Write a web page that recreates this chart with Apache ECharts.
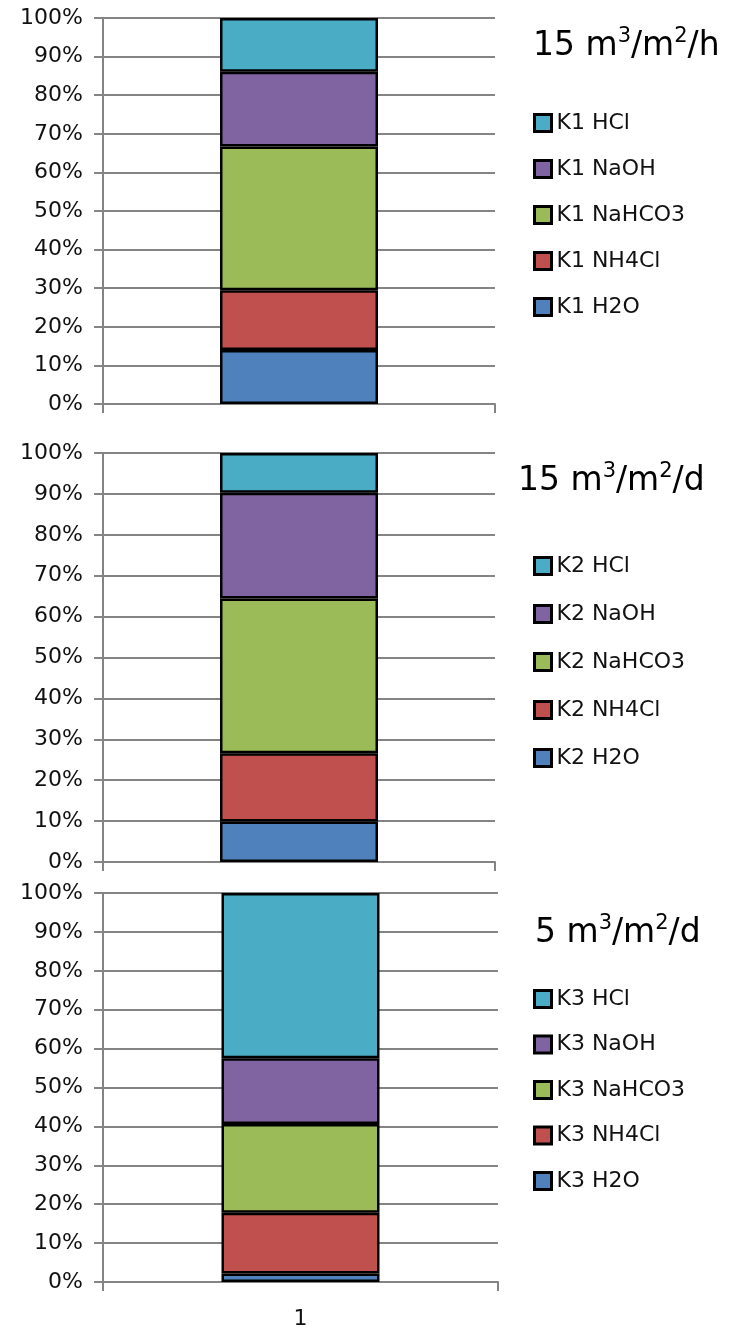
<!DOCTYPE html>
<html>
<head>
<meta charset="utf-8">
<style>
  html, body { margin: 0; padding: 0; background: #fff; }
  #chart { width: 738px; height: 1332px; }
</style>
<script src="https://cdn.jsdelivr.net/npm/echarts@6/dist/echarts.min.js"></script>
</head>
<body>
<div id="chart"></div>
<script>
// Column categories and stacked components (bottom to top)
const categories = ['1'];
const components = ['H2O', 'NH4Cl', 'NaHCO3', 'NaOH', 'HCl'];
const componentColors = ['#4F81BD', '#C0504D', '#9BBB59', '#8064A2', '#4BACC6'];

// Share of each component, percent
const k1Values = [14.0, 15.5, 37.2, 19.4, 13.9];
const k2Values = [9.9, 16.7, 37.8, 25.9, 9.7];
const k3Values = [2.2, 15.6, 22.8, 16.9, 42.5];

const panelPrefixes = ['K1', 'K2', 'K3'];
const panelValues = [k1Values, k2Values, k3Values];
// Loading rates, with superscript exponents as rich-text tokens
const panelTitles = ['15 m{sup|3}/m{sup|2}/h', '15 m{sup|3}/m{sup|2}/d', '5 m{sup|3}/m{sup|2}/d'];

// Panel layout (pixels)
const panels = [
  { top: 18, height: 386, right: 243, titleLeft: 533, titleTop: 26, legendTop: 107, legendGap: 24, showX: false },
  { top: 453, height: 409, right: 243, titleLeft: 518, titleTop: 461, legendTop: 550, legendGap: 26, showX: false },
  { top: 893, height: 389, right: 240, titleLeft: 535, titleTop: 913, legendTop: 983, legendGap: 23.5, showX: true }
];

const gridColor = '#848484';
const textColor = '#111';
const font = 'DejaVu Sans';

const grids = [], xAxes = [], yAxes = [], series = [], legends = [], titles = [];

panels.forEach((p, i) => {
  grids.push({ left: 103, right: p.right, top: p.top, height: p.height, containLabel: false });
  xAxes.push({
    type: 'category', gridIndex: i, data: categories,
    axisLine: { show: true, lineStyle: { color: gridColor, width: 2 } },
    axisTick: { show: true, length: 9, alignWithLabel: false, lineStyle: { color: gridColor, width: 2 } },
    axisLabel: { show: p.showX, margin: 26, color: textColor, fontFamily: font, fontSize: 22 }
  });
  yAxes.push({
    type: 'value', gridIndex: i, min: 0, max: 100, interval: 10,
    axisLine: { show: true, lineStyle: { color: gridColor, width: 2 } },
    axisTick: { show: true, length: 9, lineStyle: { color: gridColor, width: 2 } },
    splitLine: { show: true, lineStyle: { color: gridColor, width: 2 } },
    axisLabel: { formatter: '{value}%', margin: 20, color: textColor, fontFamily: font, fontSize: 22 }
  });
  components.forEach((c, j) => {
    series.push({
      name: panelPrefixes[i] + ' ' + c,
      type: 'bar', stack: 'panel' + i,
      xAxisIndex: i, yAxisIndex: i,
      barWidth: 158,
      itemStyle: { color: componentColors[j], borderColor: '#000', borderWidth: 2.5 },
      emphasis: { disabled: true },
      data: [panelValues[i][j]]
    });
  });
  legends.push({
    orient: 'vertical', left: 528, top: p.legendTop,
    itemWidth: 17, itemHeight: 17, itemGap: p.legendGap,
    icon: 'rect',
    selectedMode: false,
    itemStyle: { borderColor: '#000', borderWidth: 3 },
    textStyle: { color: textColor, fontFamily: font, fontSize: 22, lineHeight: 22 },
    data: components.slice().reverse().map(c => panelPrefixes[i] + ' ' + c)
  });
  titles.push({
    text: panelTitles[i], left: p.titleLeft, top: p.titleTop, padding: 0,
    textStyle: {
      color: '#000', fontFamily: font, fontSize: 33, fontWeight: 'normal', lineHeight: 40,
      rich: {
        sup: { fontFamily: font, fontSize: 21, color: '#000', verticalAlign: 'top', lineHeight: 24 }
      }
    }
  });
});

const chart = echarts.init(document.getElementById('chart'), null, { renderer: 'canvas' });
chart.setOption({
  animation: false,
  backgroundColor: '#fff',
  title: titles,
  grid: grids,
  xAxis: xAxes,
  yAxis: yAxes,
  legend: legends,
  series: series
});
</script>
</body>
</html>
